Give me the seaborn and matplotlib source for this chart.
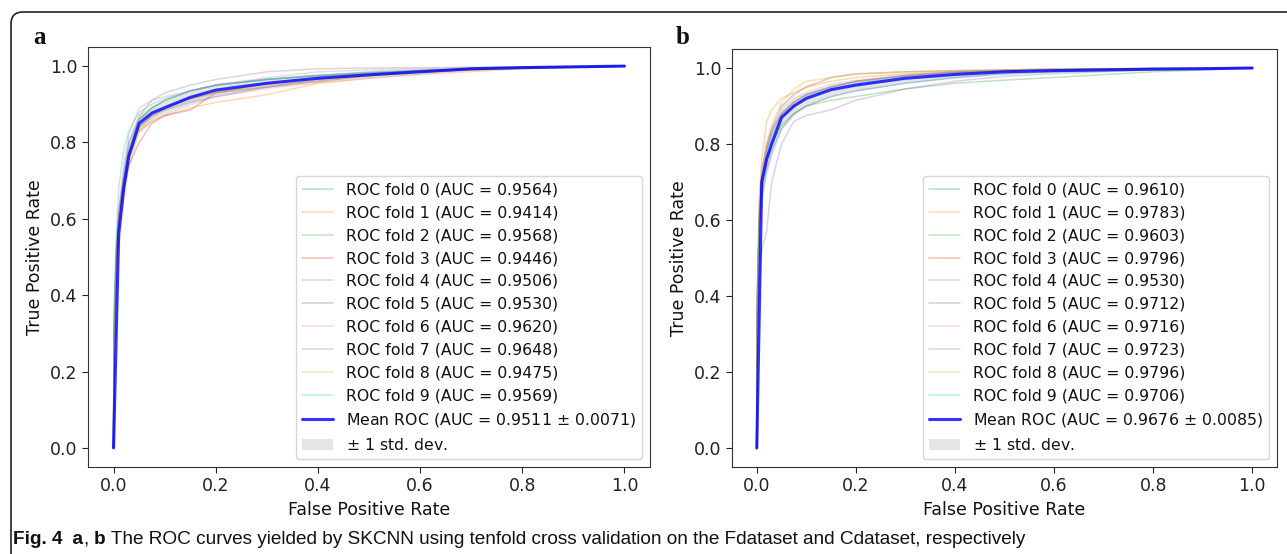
import numpy as np
import matplotlib
matplotlib.use("Agg")
from matplotlib import pyplot as plt
from matplotlib.patches import FancyBboxPatch
import seaborn as sns

# shared fpr grid for the per-fold curves
fold_fpr = [0, 0.001, 0.005, 0.01, 0.02, 0.03, 0.05, 0.075, 0.1, 0.15, 0.2, 0.3, 0.4, 0.5, 0.6, 0.8, 1.0]
mean_fpr = [0, 0.01, 0.02, 0.03, 0.05, 0.075, 0.1, 0.15, 0.2, 0.3, 0.4, 0.5, 0.6, 0.7, 0.8, 0.9, 1.0]

# panel a (Fdataset)
auc_a = [0.9564, 0.9414, 0.9568, 0.9446, 0.9506, 0.9530, 0.9620, 0.9648, 0.9475, 0.9569]
mean_auc_a, std_auc_a = 0.9511, 0.0071
tpr_a = [
    [0, 0.30, 0.50, 0.60, 0.72, 0.80, 0.86, 0.89, 0.91, 0.935, 0.95, 0.965, 0.975, 0.982, 0.988, 0.996, 1.0],
    [0, 0.35, 0.52, 0.62, 0.70, 0.76, 0.83, 0.855, 0.87, 0.89, 0.905, 0.925, 0.955, 0.968, 0.978, 0.993, 1.0],
    [0, 0.30, 0.48, 0.60, 0.70, 0.78, 0.86, 0.89, 0.91, 0.935, 0.95, 0.965, 0.975, 0.985, 0.99, 0.997, 1.0],
    [0, 0.15, 0.45, 0.58, 0.68, 0.74, 0.80, 0.85, 0.87, 0.885, 0.93, 0.945, 0.96, 0.975, 0.985, 0.995, 1.0],
    [0, 0.25, 0.45, 0.58, 0.70, 0.78, 0.84, 0.87, 0.885, 0.905, 0.92, 0.945, 0.965, 0.98, 0.988, 0.996, 1.0],
    [0, 0.30, 0.48, 0.60, 0.70, 0.77, 0.84, 0.87, 0.89, 0.915, 0.93, 0.955, 0.97, 0.98, 0.987, 0.995, 1.0],
    [0, 0.30, 0.50, 0.62, 0.74, 0.82, 0.89, 0.91, 0.92, 0.935, 0.95, 0.97, 0.985, 0.99, 0.993, 0.997, 1.0],
    [0, 0.30, 0.50, 0.62, 0.72, 0.80, 0.87, 0.91, 0.93, 0.95, 0.965, 0.985, 0.993, 0.995, 0.996, 0.998, 1.0],
    [0, 0.30, 0.48, 0.58, 0.68, 0.76, 0.83, 0.865, 0.885, 0.91, 0.93, 0.95, 0.96, 0.975, 0.985, 0.994, 1.0],
    [0, 0.35, 0.55, 0.68, 0.78, 0.83, 0.88, 0.90, 0.915, 0.935, 0.95, 0.965, 0.975, 0.982, 0.988, 0.996, 1.0],
]
mean_tpr_a = [0, 0.56, 0.68, 0.765, 0.85, 0.877, 0.891, 0.918, 0.937, 0.955, 0.968, 0.977, 0.985, 0.993, 0.996, 0.998, 1.0]
std_tpr_a = [0, 0.05, 0.04, 0.03, 0.025, 0.02, 0.02, 0.02, 0.018, 0.015, 0.012, 0.009, 0.006, 0.004, 0.003, 0.002, 0]

# panel b (Cdataset)
auc_b = [0.9610, 0.9783, 0.9603, 0.9796, 0.9530, 0.9712, 0.9716, 0.9723, 0.9796, 0.9706]
mean_auc_b, std_auc_b = 0.9676, 0.0085
tpr_b = [
    [0, 0.35, 0.58, 0.66, 0.73, 0.78, 0.84, 0.88, 0.90, 0.925, 0.94, 0.96, 0.975, 0.985, 0.99, 0.996, 1.0],
    [0, 0.40, 0.66, 0.76, 0.86, 0.89, 0.92, 0.935, 0.95, 0.965, 0.975, 0.985, 0.99, 0.995, 0.997, 0.999, 1.0],
    [0, 0.35, 0.58, 0.68, 0.76, 0.80, 0.85, 0.88, 0.90, 0.915, 0.925, 0.945, 0.96, 0.968, 0.975, 0.99, 1.0],
    [0, 0.40, 0.62, 0.73, 0.80, 0.84, 0.90, 0.93, 0.95, 0.975, 0.985, 0.99, 0.993, 0.995, 0.997, 0.999, 1.0],
    [0, 0.25, 0.45, 0.52, 0.57, 0.70, 0.80, 0.86, 0.875, 0.89, 0.915, 0.945, 0.965, 0.978, 0.985, 0.995, 1.0],
    [0, 0.35, 0.60, 0.70, 0.79, 0.83, 0.88, 0.91, 0.93, 0.95, 0.965, 0.98, 0.988, 0.992, 0.995, 0.998, 1.0],
    [0, 0.35, 0.60, 0.70, 0.78, 0.83, 0.88, 0.91, 0.93, 0.95, 0.965, 0.98, 0.988, 0.992, 0.995, 0.998, 1.0],
    [0, 0.38, 0.60, 0.70, 0.78, 0.84, 0.88, 0.91, 0.93, 0.95, 0.965, 0.98, 0.99, 0.993, 0.996, 0.998, 1.0],
    [0, 0.40, 0.63, 0.72, 0.80, 0.85, 0.91, 0.945, 0.965, 0.975, 0.983, 0.99, 0.993, 0.995, 0.997, 0.999, 1.0],
    [0, 0.38, 0.60, 0.69, 0.77, 0.82, 0.87, 0.90, 0.925, 0.945, 0.96, 0.978, 0.987, 0.992, 0.995, 0.998, 1.0],
]
mean_tpr_b = [0, 0.70, 0.76, 0.80, 0.87, 0.90, 0.92, 0.943, 0.955, 0.973, 0.983, 0.99, 0.993, 0.995, 0.997, 0.998, 1.0]
std_tpr_b = [0, 0.05, 0.04, 0.035, 0.03, 0.025, 0.02, 0.018, 0.016, 0.013, 0.01, 0.007, 0.005, 0.004, 0.003, 0.002, 0]

FS = 12.5
LEG_FS = 11.3
W, H = 1287, 554

sns.set_style("ticks")
plt.rcParams['font.family'] = ['DejaVu Sans']
plt.rcParams['text.color'] = '#111111'
plt.rcParams['axes.labelcolor'] = '#111111'
plt.rcParams['xtick.color'] = '#222222'
plt.rcParams['ytick.color'] = '#222222'
plt.rcParams['axes.edgecolor'] = '#333333'

fig = plt.figure(figsize=(W / 100, H / 100), dpi=100)
ax_a = fig.add_axes([88 / W, 1 - 467 / H, 562 / W, 420 / H])
ax_b = fig.add_axes([732 / W, 1 - 467 / H, 545 / W, 418 / H])
pal = sns.color_palette("tab10")


def draw_roc(ax, tprs, aucs, mean_tpr, std_tpr, mean_auc, std_auc):
    for i in range(len(tprs)):
        sns.lineplot(x=fold_fpr, y=tprs[i], ax=ax, color=pal[i], lw=1.1, alpha=0.3,
                     sort=False, estimator=None, label='ROC fold %d (AUC = %0.4f)' % (i, aucs[i]))
    sns.lineplot(x=mean_fpr, y=mean_tpr, ax=ax, color='b', lw=2.2, alpha=0.8, sort=False,
                 estimator=None, label=r'Mean ROC (AUC = %0.4f $\pm$ %0.4f)' % (mean_auc, std_auc))
    m = np.array(mean_tpr)
    s = np.array(std_tpr)
    upper = np.minimum(m + s, 1)
    lower = np.maximum(m - s, 0)
    ax.fill_between(mean_fpr, lower, upper, color='grey', alpha=0.2, lw=0, label=r'$\pm$ 1 std. dev.')
    ax.set_xlim(-0.05, 1.05)
    ax.set_ylim(-0.05, 1.05)
    ax.set_xlabel('False Positive Rate', fontsize=FS)
    ax.set_ylabel('True Positive Rate', fontsize=FS)
    ax.tick_params(labelsize=FS, length=4)
    ax.legend(loc='lower right', fontsize=LEG_FS)


draw_roc(ax_a, tpr_a, auc_a, mean_tpr_a, std_tpr_a, mean_auc_a, std_auc_a)
draw_roc(ax_b, tpr_b, auc_b, mean_tpr_b, std_tpr_b, mean_auc_b, std_auc_b)

# panel letters
fig.text(40 / W, 1 - 38 / H, 'a', fontsize=18, fontweight='bold', family='Liberation Serif', ha='center', va='center')
fig.text(683 / W, 1 - 38 / H, 'b', fontsize=18, fontweight='bold', family='Liberation Serif', ha='center', va='center')

# journal frame
frame = FancyBboxPatch((11, -30), 1320, H - 12 + 30, boxstyle="round,pad=0,rounding_size=12",
                       transform=None, fill=False, ec='#222222', lw=1.2)
fig.add_artist(frame)

# caption, drawn piece by piece to mix bold and regular
cap_parts = [('Fig. 4', 'bold'), ('  a', 'bold'), (', ', 'normal'), ('b', 'bold'),
             (' The ROC curves yielded by SKCNN using tenfold cross validation on the Fdataset and Cdataset, respectively', 'normal')]
cap_font = ['Liberation Sans Narrow', 'Liberation Sans', 'DejaVu Sans']
r = fig.canvas.get_renderer()


def place_caption(size):
    x = 13
    items = []
    for txt, wt in cap_parts:
        t = fig.text(x / W, 1 - 540 / H, txt, fontsize=size, fontweight=wt, family=cap_font, va='center')
        x += t.get_window_extent(r).width
        items.append(t)
    return items, x


items, xend = place_caption(13)
for t in items:
    t.remove()
place_caption(13 * (1028 - 13) / (xend - 13))

fig.savefig('out.png', dpi=100)
